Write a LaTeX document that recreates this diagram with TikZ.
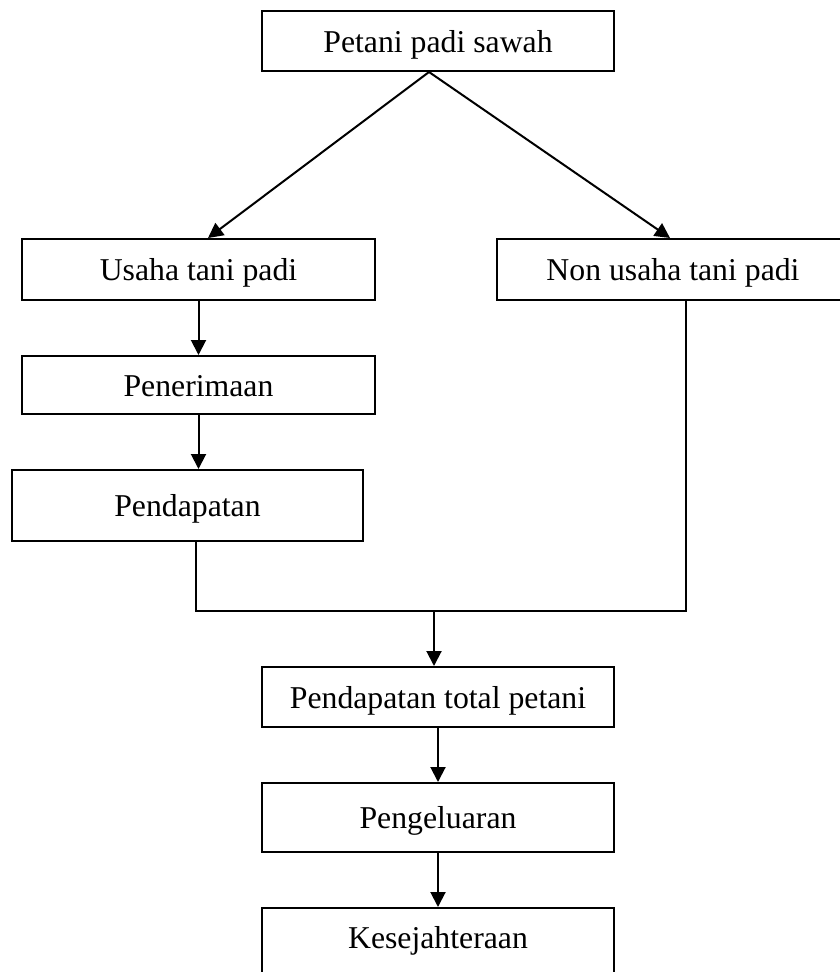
\documentclass[tikz,border=0pt]{standalone}
\usepackage{fontspec}
\setmainfont{Liberation Serif}
\usetikzlibrary{arrows.meta, positioning, calc}
\tikzstyle{box} = [rectangle, minimum width=140.8pt, minimum height=24pt, inner sep=0pt, text height=11.4pt, text depth=2.5pt, text centered, draw=black, line width=0.8pt, font=\fontsize{12.7}{15}\selectfont]
\tikzstyle{arrow} = [line width=0.8pt, -{Triangle[length=6pt, width=6pt]}]
\tikzstyle{line} = [line width=0.8pt]

\begin{document}
\begin{tikzpicture}[x=0.4pt, y=-0.4pt]
    \useasboundingbox (0,0) rectangle (839,972);

    % Kotak
    \node (petani) [box] at (438,41) {Petani padi sawah};
    \node (usaha) [box, minimum height=24.4pt] at (198.5,269.5) {Usaha tani padi};
    \node (nonusaha) [box, minimum height=24.4pt] at (673,269.5) {Non usaha tani padi};
    \node (penerimaan) [box, minimum height=23.2pt] at (198.5,385) {Penerimaan};
    \node (pendapatan) [box, minimum width=140.4pt, minimum height=28.4pt] at (187.5,505.5) {Pendapatan};
    \node (total) [box] at (438,697) {Pendapatan total petani};
    \node (pengeluaran) [box, minimum height=27.6pt] at (438,817.5) {Pengeluaran};
    \node (sejahtera) [box, anchor=north, minimum height=0pt, text height=16pt, text depth=16pt] at (438,907) {Kesejahteraan};

    \coordinate (kiri) at (196,611);
    \coordinate (kanan) at (686,611);
    \coordinate (tengah) at (434,611);

    % Panah
    \draw [arrow] ([xshift=-3.6pt]petani.south) -- ([xshift=3.8pt]usaha.north);
    \draw [arrow] ([xshift=-3.6pt]petani.south) -- ([xshift=-1.2pt]nonusaha.north);
    \draw [arrow] (usaha) -- (penerimaan);
    \draw [arrow] (penerimaan.south) -- (penerimaan.south |- pendapatan.north);

    \draw [line] (pendapatan.south -| kiri) -- (kiri) -- (kanan) -- (nonusaha.south -| kanan);
    \draw [arrow] (tengah) -- (tengah |- total.north);
    \draw [arrow] (total) -- (pengeluaran);
    \draw [arrow] (pengeluaran) -- (sejahtera);

\end{tikzpicture}
\end{document}
